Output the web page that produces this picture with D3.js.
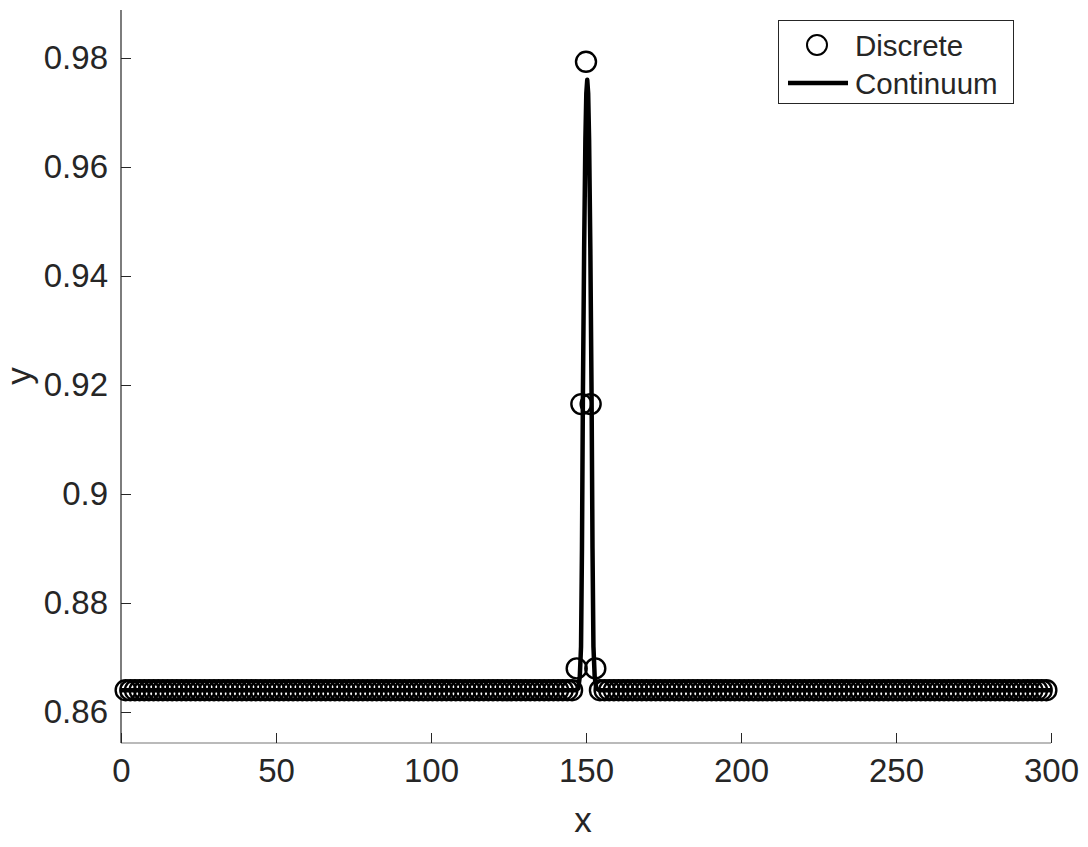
<!DOCTYPE html>
<html>
<head>
<meta charset="utf-8">
<script src="https://cdn.jsdelivr.net/npm/d3@7"></script>
<style>
  body { margin: 0; background: #fff; }
  text { font-family: "Liberation Sans", Arial, sans-serif; fill: #262626; }
</style>
</head>
<body>
<svg id="chart" width="1088" height="847"></svg>
<script>
// discrete samples
var discreteX = [
  1.5, 3, 4.5, 6, 7.5, 9, 10.5, 12, 13.5, 15,
  16.5, 18, 19.5, 21, 22.5, 24, 25.5, 27, 28.5, 30,
  31.5, 33, 34.5, 36, 37.5, 39, 40.5, 42, 43.5, 45,
  46.5, 48, 49.5, 51, 52.5, 54, 55.5, 57, 58.5, 60,
  61.5, 63, 64.5, 66, 67.5, 69, 70.5, 72, 73.5, 75,
  76.5, 78, 79.5, 81, 82.5, 84, 85.5, 87, 88.5, 90,
  91.5, 93, 94.5, 96, 97.5, 99, 100.5, 102, 103.5, 105,
  106.5, 108, 109.5, 111, 112.5, 114, 115.5, 117, 118.5, 120,
  121.5, 123, 124.5, 126, 127.5, 129, 130.5, 132, 133.5, 135,
  136.5, 138, 139.5, 141, 142.5, 144, 145.5, 147, 148.5, 150,
  151.5, 153, 154.5, 156, 157.5, 159, 160.5, 162, 163.5, 165,
  166.5, 168, 169.5, 171, 172.5, 174, 175.5, 177, 178.5, 180,
  181.5, 183, 184.5, 186, 187.5, 189, 190.5, 192, 193.5, 195,
  196.5, 198, 199.5, 201, 202.5, 204, 205.5, 207, 208.5, 210,
  211.5, 213, 214.5, 216, 217.5, 219, 220.5, 222, 223.5, 225,
  226.5, 228, 229.5, 231, 232.5, 234, 235.5, 237, 238.5, 240,
  241.5, 243, 244.5, 246, 247.5, 249, 250.5, 252, 253.5, 255,
  256.5, 258, 259.5, 261, 262.5, 264, 265.5, 267, 268.5, 270,
  271.5, 273, 274.5, 276, 277.5, 279, 280.5, 282, 283.5, 285,
  286.5, 288, 289.5, 291, 292.5, 294, 295.5, 297, 298.5
];
var discreteY = [
  0.864, 0.864, 0.864, 0.864, 0.864, 0.864, 0.864, 0.864, 0.864, 0.864,
  0.864, 0.864, 0.864, 0.864, 0.864, 0.864, 0.864, 0.864, 0.864, 0.864,
  0.864, 0.864, 0.864, 0.864, 0.864, 0.864, 0.864, 0.864, 0.864, 0.864,
  0.864, 0.864, 0.864, 0.864, 0.864, 0.864, 0.864, 0.864, 0.864, 0.864,
  0.864, 0.864, 0.864, 0.864, 0.864, 0.864, 0.864, 0.864, 0.864, 0.864,
  0.864, 0.864, 0.864, 0.864, 0.864, 0.864, 0.864, 0.864, 0.864, 0.864,
  0.864, 0.864, 0.864, 0.864, 0.864, 0.864, 0.864, 0.864, 0.864, 0.864,
  0.864, 0.864, 0.864, 0.864, 0.864, 0.864, 0.864, 0.864, 0.864, 0.864,
  0.864, 0.864, 0.864, 0.864, 0.864, 0.864, 0.864, 0.864, 0.864, 0.864,
  0.864, 0.864, 0.864, 0.864, 0.864, 0.864, 0.864, 0.868, 0.9165, 0.9793,
  0.9165, 0.868, 0.864, 0.864, 0.864, 0.864, 0.864, 0.864, 0.864, 0.864,
  0.864, 0.864, 0.864, 0.864, 0.864, 0.864, 0.864, 0.864, 0.864, 0.864,
  0.864, 0.864, 0.864, 0.864, 0.864, 0.864, 0.864, 0.864, 0.864, 0.864,
  0.864, 0.864, 0.864, 0.864, 0.864, 0.864, 0.864, 0.864, 0.864, 0.864,
  0.864, 0.864, 0.864, 0.864, 0.864, 0.864, 0.864, 0.864, 0.864, 0.864,
  0.864, 0.864, 0.864, 0.864, 0.864, 0.864, 0.864, 0.864, 0.864, 0.864,
  0.864, 0.864, 0.864, 0.864, 0.864, 0.864, 0.864, 0.864, 0.864, 0.864,
  0.864, 0.864, 0.864, 0.864, 0.864, 0.864, 0.864, 0.864, 0.864, 0.864,
  0.864, 0.864, 0.864, 0.864, 0.864, 0.864, 0.864, 0.864, 0.864, 0.864,
  0.864, 0.864, 0.864, 0.864, 0.864, 0.864, 0.864, 0.864, 0.864
];

// continuum curve
var contX = [0, 146.5, 147.5, 148.0, 148.4, 148.7, 149.0, 149.4, 149.8, 150.1, 150.4,
  150.7, 151.0, 151.4, 151.8, 152.1, 152.4, 152.8, 153.3, 154.3, 300];
var contY = [0.864, 0.864, 0.8643, 0.8665, 0.872, 0.89, 0.918, 0.945, 0.965, 0.9735, 0.976,
  0.9735, 0.965, 0.945, 0.918, 0.89, 0.872, 0.8665, 0.8643, 0.864, 0.864];

var xTicks = [0, 50, 100, 150, 200, 250, 300];
var yTicks = [0.86, 0.88, 0.9, 0.92, 0.94, 0.96, 0.98];
var seriesNames = ["Discrete", "Continuum"];

var svg = d3.select("#chart");
var plotLeft = 121, plotRight = 1051, plotTop = 10, plotBottom = 743;

var x = d3.scaleLinear().domain([0, 300]).range([plotLeft, plotRight]);
// 0.86 sits at 712px, 0.98 at 58px
var k = (712 - 58) / 0.12;
var y = d3.scaleLinear()
  .domain([0.86 - (plotBottom - 712) / k, 0.98 + (58 - plotTop) / k])
  .range([plotBottom, plotTop]);

// axes (ticks point inwards)
var xAxis = svg.append("g")
  .attr("transform", "translate(0," + plotBottom + ")")
  .call(d3.axisBottom(x).tickValues(xTicks).tickSize(-10).tickPadding(16).tickFormat(d3.format("d")));
var yAxis = svg.append("g")
  .attr("transform", "translate(" + plotLeft + ",0)")
  .call(d3.axisLeft(y).tickValues(yTicks).tickSize(-10).tickPadding(13)
    .tickFormat(function (d) { return String(+d.toFixed(2)); }));

[xAxis, yAxis].forEach(function (g) {
  g.select(".domain").attr("stroke", "#262626").attr("stroke-width", 1.2);
  g.selectAll(".tick line").attr("stroke", "#262626");
  g.selectAll(".tick text")
    .attr("fill", "#262626")
    .style("font-family", "'Liberation Sans', Arial, sans-serif")
    .style("font-size", "33px");
});
xAxis.select(".domain").attr("d", "M" + plotLeft + ",0H" + plotRight).attr("stroke", "#777");
yAxis.select(".domain").attr("d", "M0," + plotBottom + "V" + plotTop);

// axis labels
svg.append("text")
  .attr("x", (plotLeft + plotRight) / 2 - 3)
  .attr("y", 832)
  .attr("text-anchor", "middle")
  .style("font-size", "35px")
  .text("x");
svg.append("text")
  .attr("transform", "translate(31,376) rotate(-90)")
  .attr("text-anchor", "middle")
  .style("font-size", "35px")
  .text("y");

// continuum line
var line = d3.line()
  .x(function (d) { return x(d[0]); })
  .y(function (d) { return y(d[1]); });
svg.append("path")
  .datum(d3.zip(contX, contY))
  .attr("d", line)
  .attr("fill", "none")
  .attr("stroke", "#000")
  .attr("stroke-width", 4.5)
  .attr("stroke-linejoin", "round");

// discrete markers
svg.append("g")
  .selectAll("circle")
  .data(d3.zip(discreteX, discreteY))
  .enter()
  .append("circle")
  .attr("cx", function (d) { return x(d[0]); })
  .attr("cy", function (d) { return y(d[1]); })
  .attr("r", 10)
  .attr("fill", "none")
  .attr("stroke", "#000")
  .attr("stroke-width", 2.4);

// legend
var lg = svg.append("g");
lg.append("rect")
  .attr("x", 778.5).attr("y", 20.5)
  .attr("width", 235).attr("height", 83)
  .attr("fill", "#fff")
  .attr("stroke", "#262626");
lg.append("circle")
  .attr("cx", 817).attr("cy", 45).attr("r", 10)
  .attr("fill", "none").attr("stroke", "#000").attr("stroke-width", 2);
lg.append("line")
  .attr("x1", 788).attr("x2", 848).attr("y1", 83).attr("y2", 83)
  .attr("stroke", "#000").attr("stroke-width", 4.5);
lg.selectAll("text.leg")
  .data(seriesNames)
  .enter()
  .append("text")
  .attr("class", "leg")
  .attr("x", 855)
  .attr("y", function (d, i) { return 56 + i * 38; })
  .style("font-size", "29.5px")
  .attr("fill", "#000")
  .text(function (d) { return d; });
</script>
</body>
</html>
